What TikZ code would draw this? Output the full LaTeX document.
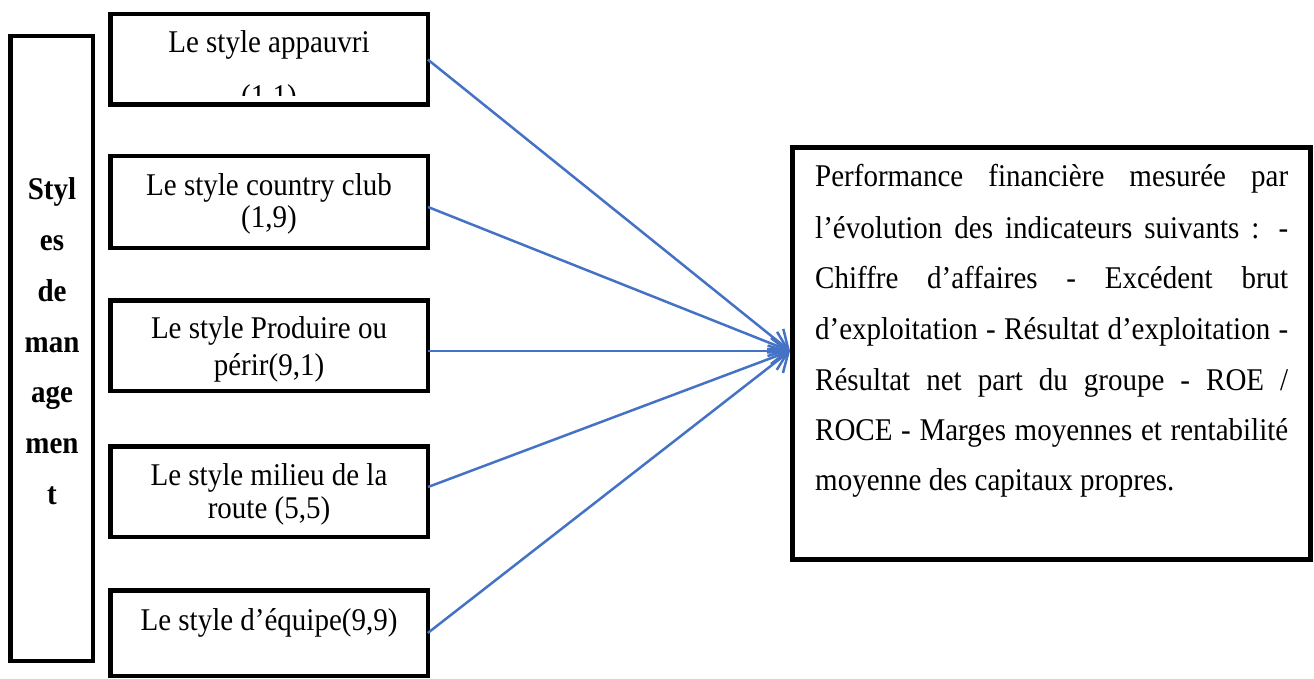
\documentclass[tikz,border=0pt]{standalone}
\usepackage{fontspec}
\usepackage{graphicx}
\setmainfont{Liberation Serif}
\usetikzlibrary{arrows.meta}
\definecolor{wordblue}{RGB}{68,114,196}
\newcommand{\tallt}[1]{\scalebox{1}[1.09]{#1}}
\begin{document}
\begin{tikzpicture}[x=1pt,y=-1pt,
  box/.style={draw=black,line width=4.5pt,inner sep=0,outer sep=0},
  bigbox/.style={draw=black,line width=5pt,inner sep=0,outer sep=0},
  txt/.style={inner sep=0,anchor=base,font=\fontsize{29}{35}\selectfont},
  btxt/.style={inner sep=0,anchor=base,font=\fontsize{29}{35}\selectfont\bfseries},
  rtxt/.style={inner sep=0,anchor=base west,font=\fontsize{29}{35}\selectfont},
  arr/.style={draw=wordblue,line width=2.5pt,-{Straight Barb[length=17pt,width=26pt,line width=2.5pt]}}]
\useasboundingbox (0,0) rectangle (1314,679);

% boxes
\node[box,minimum width=82.5pt,minimum height=624.5pt] (lb) at (51.5,348.5) {};
\node[box,minimum width=317.5pt,minimum height=90.5pt] (b1) at (269,59.5) {};
\node[box,minimum width=317.5pt,minimum height=91.5pt] (b2) at (269,202) {};
\node[box,minimum width=317.5pt,minimum height=90.5pt] (b3) at (269,345.5) {};
\node[box,minimum width=317.5pt,minimum height=90.5pt] (b4) at (269,491.5) {};
\node[box,minimum width=317.5pt,minimum height=85.5pt] (b5) at (269,633) {};
\node[bigbox,minimum width=518pt,minimum height=412pt] (rb) at (1051.5,353.5) {};

% left vertical label
\node[btxt] (w1) at (52,200) {\tallt{Styl}};
\node[btxt] (w2) at (52,251) {\tallt{es}};
\node[btxt] (w3) at (52,301) {\tallt{de}};
\node[btxt] (w4) at (52,352) {\tallt{man}};
\node[btxt] (w5) at (52,402) {\tallt{age}};
\node[btxt] (w6) at (52,453) {\tallt{men}};
\node[btxt] (w7) at (52,504) {\tallt{t}};

% box texts
\node[txt] (t1a) at (269,53) {\tallt{Le style appauvri}};
\begin{scope}
  \clip (110,0) rectangle (428,96);
  \node[txt] (t1b) at (269,107) {\tallt{(1,1)}};
\end{scope}
\node[txt] (t2a) at (269,196) {\tallt{Le style country club}};
\node[txt] (t2b) at (269,227) {\tallt{(1,9)}};
\node[txt] (t3a) at (269,338) {\tallt{Le style Produire ou}};
\node[txt] (t3b) at (269,375) {\tallt{périr(9,1)}};
\node[txt] (t4a) at (269,485) {\tallt{Le style milieu de la}};
\node[txt] (t4b) at (269,518) {\tallt{route (5,5)}};
\node[txt] (t5a) at (269,630) {\tallt{Le style d’équipe(9,9)}};

% right box text
\node[rtxt] (r1) at (815,187) {\tallt{\makebox[473pt][s]{Performance financière mesurée par}}};
\node[rtxt] (r2) at (815,238) {\tallt{\makebox[473pt][s]{l’évolution des indicateurs suivants : -}}};
\node[rtxt] (r3) at (815,288) {\tallt{\makebox[473pt][s]{Chiffre d’affaires - Excédent brut}}};
\node[rtxt] (r4) at (815,339) {\tallt{\makebox[473pt][s]{d’exploitation - Résultat d’exploitation -}}};
\node[rtxt] (r5) at (815,390) {\tallt{\makebox[473pt][s]{Résultat net part du groupe - ROE /}}};
\node[rtxt] (r6) at (815,440) {\tallt{\makebox[473pt][s]{ROCE - Marges moyennes et rentabilité}}};
\node[rtxt] (r7) at (815,490) {\tallt{moyenne des capitaux propres.}};

% connectors
\coordinate (s2) at (428,207);
\coordinate (s3) at (428,351);
\coordinate (s4) at (428,487);
\coordinate (tip) at ([xshift=-2.5pt,yshift=2.5pt]rb.west);
\draw[arr] (b1.east) -- (tip);
\draw[arr] (s2) -- (tip);
\draw[arr] (s3) -- (tip);
\draw[arr] (s4) -- (tip);
\draw[arr] (b5.east) -- (tip);
\end{tikzpicture}
\end{document}
